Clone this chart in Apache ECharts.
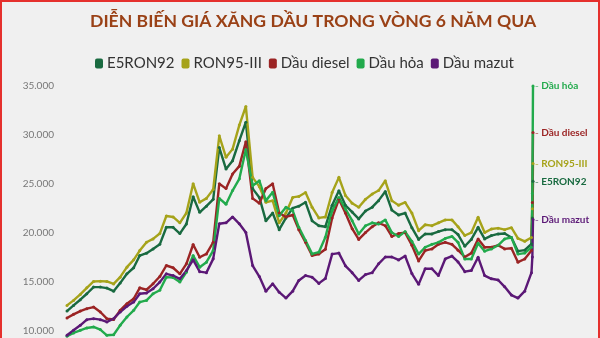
<!DOCTYPE html>
<html><head><meta charset="utf-8">
<script src="https://cdn.jsdelivr.net/npm/echarts/dist/echarts.min.js"></script>
<style>html,body{margin:0;padding:0;background:#f0f0f0}#c{width:600px;height:338px}</style>
</head><body><div id="c"></div>
<script>
const dates = ['2020-04-01','2020-05-01','2020-06-01','2020-07-01','2020-08-01','2020-09-01','2020-10-01','2020-11-01','2020-12-01',
'2021-01-01','2021-02-01','2021-03-01','2021-04-01','2021-05-01','2021-06-01','2021-07-01','2021-08-01','2021-09-01','2021-10-01','2021-11-01','2021-12-01',
'2022-01-01','2022-02-01','2022-03-01','2022-04-01','2022-05-01','2022-06-01','2022-07-01','2022-08-01','2022-09-01','2022-10-01','2022-11-01','2022-12-01',
'2023-01-01','2023-02-01','2023-03-01','2023-04-01','2023-05-01','2023-06-01','2023-07-01','2023-08-01','2023-09-01','2023-10-01','2023-11-01','2023-12-01',
'2024-01-01','2024-02-01','2024-03-01','2024-04-01','2024-05-01','2024-06-01','2024-07-01','2024-08-01','2024-09-01','2024-10-01','2024-11-01','2024-12-01',
'2025-01-01','2025-02-01','2025-03-01','2025-04-01','2025-05-01','2025-06-01','2025-07-01','2025-08-01','2025-09-01','2025-10-01','2025-11-01','2025-12-01',
'2026-01-01','2026-02-01','2026-02-05','2026-02-08'];

const e5ron92 = [11970,12550,13130,13740,14420,14420,14320,14000,14830,15780,
16400,17650,17890,18330,18800,20540,20540,19900,20880,23670,
22070,22700,23400,28700,26500,27350,29400,31300,24500,23600,
21200,22000,20300,21500,22500,22700,23100,21200,20700,20600,
22800,24290,22800,22100,21400,22200,22600,23270,24200,22300,
21800,22000,20500,19300,19860,19860,20100,20300,20300,19800,
18600,19300,20540,19350,19690,19860,19900,19500,18100,18200,
18840,21500,25240];

const ron95 = [12550,13060,13670,14350,15000,15030,15000,14750,15440,16460,
17210,18160,19010,19350,19900,21700,21600,21000,22000,25000,
23100,23500,24400,29900,27700,28540,31000,32900,25650,24700,
23100,23270,21000,22000,23600,23700,24100,22600,21500,21600,
24100,25650,23800,23000,22600,23400,23950,24300,25300,23270,
22800,23090,22000,20200,20800,20710,21000,21300,21300,20600,
19700,20000,21560,20000,20370,20450,20300,20500,19400,19100,
19500,22440,27070];

const diesel = [11260,11630,11970,12210,12380,11870,11190,11100,12040,12720,
13230,14350,14150,14760,15500,16630,16400,15780,16800,18780,
17480,17820,19010,25000,24500,26000,26800,29300,23500,23000,
24500,25000,22000,21600,21800,20300,19000,17650,17800,18300,
21500,23400,22000,20400,19300,20000,20600,21000,20700,19600,
19900,20000,18700,17100,18160,18330,18800,19000,18800,18200,
17500,17900,19350,18500,18500,18700,18330,18400,16970,17300,
18160,23090,30240];

const dauHoa = [9390,9730,10000,10240,10340,10070,9490,9550,10510,11360,
12040,12890,13060,13740,14100,15440,15400,14930,15950,17650,
16460,16970,18160,23500,22900,24300,25500,28500,24800,25300,
23270,24120,21735,22590,22250,20540,19180,17820,17990,19520,
22250,23600,22420,21220,19860,20700,21000,20880,21300,20000,
19600,20100,19100,17800,18500,18800,19000,19400,19600,19000,
17300,17300,18900,18100,18330,18700,19350,19500,17800,17900,
18500,24000,35000];

const mazut = [9490,10000,10510,11090,11190,11090,10850,11190,11870,12450,
12890,13740,13810,14250,14930,15780,15600,15270,16100,17210,
16000,15900,17310,20900,21000,21600,20900,20000,16630,15500,
14000,14760,13900,13300,14000,15100,15600,15440,14800,15300,
17800,17900,16600,15900,15100,15700,15900,16800,17500,17500,
17200,17600,15800,14700,16300,16300,15600,17300,17600,17000,
16000,16120,17480,15600,15270,15150,14450,13600,13300,14000,
15900,17500,21330];

const seriesNames = ['E5RON92','RON95-III','Dầu diesel','Dầu hỏa','Dầu mazut'];
const seriesValues = [e5ron92, ron95, diesel, dauHoa, mazut];
const colors = ['#196a40','#a6a31a','#9b2424','#22aa4c','#5b1876'];
const dashColors = ['rgba(25,106,64,0.55)','rgba(166,163,26,0.55)','rgba(155,36,36,0.55)','rgba(34,170,76,0.55)','rgba(91,24,118,0.55)'];
const yTicks = [10000,15000,20000,25000,30000,35000];

const FONT = 'Lato, "Noto Sans", sans-serif';
function fmt(v){ return String(v).replace(/\B(?=(\d{3})+(?!\d))/g,'.'); }

const chart = echarts.init(document.getElementById('c'), null, {renderer:'canvas'});
chart.setOption({
  animation:false,
  backgroundColor:'#f0f0f0',
  textStyle:{fontFamily:FONT},
  title:{
    text:'DIỄN BIẾN GIÁ XĂNG DẦU TRONG VÒNG 6 NĂM QUA',
    left:85, top:7,
    textStyle:{color:'#9a4116', fontSize:17.6, fontWeight:'bold', fontFamily:FONT}
  },
  legend:{
    data:seriesNames, left:90, top:51, itemWidth:8, itemHeight:10, itemGap:7,
    icon:'roundRect',
    textStyle:{color:'#333', fontSize:15, fontFamily:FONT, padding:[0,0,0,-1]}
  },
  grid:{left:67, right:67, top:86, height:244.3, containLabel:false},
  xAxis:{type:'time', min:'dataMin', max:'dataMax', show:false},
  yAxis:{
    type:'value', min:yTicks[0], max:yTicks[yTicks.length-1], interval:5000,
    axisLine:{show:false}, axisTick:{show:false}, splitLine:{show:false},
    axisLabel:{color:'#777', fontSize:10, margin:13, fontFamily:FONT, formatter:fmt}
  },
  graphic:[{type:'rect', shape:{x:1,y:1,width:598,height:345}, style:{fill:null, stroke:'#e5302d', lineWidth:2}, z:100}],
  series: seriesNames.map((n,i)=>({
    name:n, type:'line', clip:false,
    data: dates.map((d,k)=>[d, seriesValues[i][k]]),
    symbol:'circle', symbolSize:3, showSymbol:true,
    lineStyle:{width:2.4, color:colors[i]},
    itemStyle:{color:colors[i]},
    emphasis:{disabled:true},
    endLabel:{
      show:true, distance:2,
      formatter: '{d|- }{n|' + n + '}',
      rich:{
        d:{color:dashColors[i], fontSize:10, fontWeight:'bold', fontFamily:FONT},
        n:{color:colors[i], fontSize:10, fontWeight:'bold', fontFamily:FONT}
      }
    }
  }))
});
</script></body></html>
